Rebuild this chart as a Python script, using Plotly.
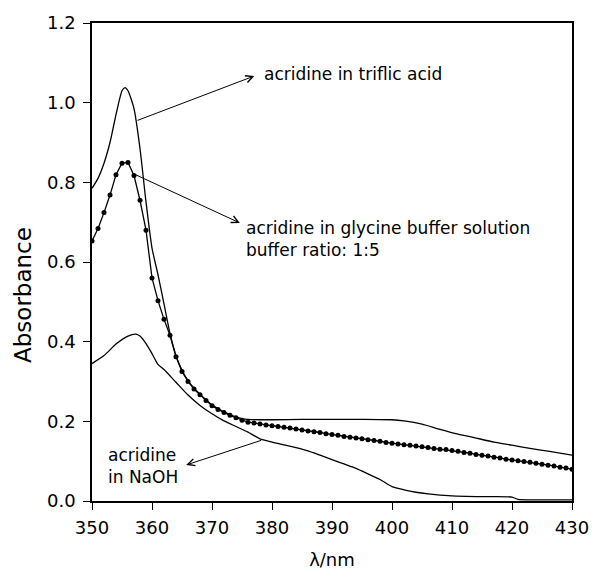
import plotly.graph_objects as go

# --- data ---
wl_triflic = [350, 351, 352, 353, 354, 355, 355.5, 356, 357, 358, 359, 360, 361, 362, 363, 364,
              365, 366, 367, 368, 369, 370, 371, 372, 373, 374, 375, 376, 378, 380, 385, 390,
              395, 400, 402, 405, 408, 411, 414, 417, 420, 423, 426, 430]
abs_triflic = [0.785, 0.81, 0.848, 0.90, 0.97, 1.03, 1.038, 1.03, 0.985, 0.885, 0.751, 0.635,
               0.568, 0.495, 0.42, 0.365, 0.328, 0.302, 0.283, 0.268, 0.254, 0.241, 0.232,
               0.224, 0.217, 0.211, 0.207, 0.205, 0.204, 0.204, 0.205, 0.205, 0.205, 0.204,
               0.201, 0.193, 0.18, 0.168, 0.158, 0.148, 0.14, 0.132, 0.125, 0.115]

wl_glycine = list(range(350, 431))
abs_glycine = [0.653, 0.684, 0.724, 0.768, 0.819, 0.848, 0.850, 0.817, 0.755, 0.680,
               0.560, 0.503, 0.456, 0.416, 0.362, 0.325, 0.300, 0.281, 0.267, 0.252,
               0.239, 0.230, 0.222, 0.215, 0.209, 0.203, 0.198, 0.196, 0.193, 0.191,
               0.189, 0.187, 0.185, 0.183, 0.181, 0.178, 0.176, 0.174, 0.172, 0.169,
               0.167, 0.165, 0.162, 0.160, 0.158, 0.156, 0.154, 0.152, 0.150, 0.147,
               0.145, 0.143, 0.141, 0.140, 0.138, 0.136, 0.134, 0.132, 0.130, 0.129,
               0.127, 0.125, 0.122, 0.120, 0.117, 0.115, 0.113, 0.110, 0.108, 0.105,
               0.103, 0.101, 0.099, 0.097, 0.095, 0.092, 0.090, 0.088, 0.085, 0.083,
               0.080]

wl_naoh = [350, 352, 354, 356, 357.3, 358, 359, 360, 361, 362, 364, 366, 368, 370, 372, 374,
           376, 378, 380, 382, 384, 386, 388, 390, 392, 394, 396, 398, 400, 402, 404, 406,
           410, 415, 420, 421, 425, 430]
abs_naoh = [0.345, 0.365, 0.394, 0.414, 0.419, 0.414, 0.395, 0.37, 0.343, 0.33, 0.298, 0.266,
            0.24, 0.219, 0.201, 0.187, 0.173, 0.156, 0.148, 0.141, 0.134, 0.126, 0.115, 0.104,
            0.093, 0.082, 0.068, 0.054, 0.036, 0.028, 0.022, 0.018, 0.013, 0.011, 0.01, 0.004,
            0.003, 0.003]

x_ticks = [350, 360, 370, 380, 390, 400, 410, 420, 430]
y_ticks = [0.0, 0.2, 0.4, 0.6, 0.8, 1.0, 1.2]

FONT = "DejaVu Sans"

fig = go.Figure()
fig.add_trace(go.Scatter(x=wl_triflic, y=abs_triflic, mode="lines",
                         line=dict(color="black", width=1.3, shape="spline", smoothing=0.6)))
fig.add_trace(go.Scatter(x=wl_glycine, y=abs_glycine, mode="lines+markers",
                         line=dict(color="black", width=1.3),
                         marker=dict(color="black", size=5, symbol="circle")))
fig.add_trace(go.Scatter(x=wl_naoh, y=abs_naoh, mode="lines",
                         line=dict(color="black", width=1.3, shape="spline", smoothing=0.6)))

arrow_kw = dict(showarrow=True, arrowhead=5, arrowsize=1.4, arrowwidth=1, arrowcolor="black",
                axref="x", ayref="y", text="", standoff=0, startstandoff=0)
fig.add_annotation(x=377.05, y=1.067, ax=357.33, ay=0.954, **arrow_kw)
fig.add_annotation(x=374.65, y=0.698, ax=357.0, ay=0.821, **arrow_kw)
fig.add_annotation(x=365.69, y=0.0904, ax=378.46, ay=0.1535, **arrow_kw)

txt_kw = dict(showarrow=False, xanchor="left", yanchor="middle", align="left",
              font=dict(family=FONT, size=17, color="black"))
fig.add_annotation(x=378.35, y=1.072, text="acridine in triflic acid", **txt_kw)
fig.add_annotation(x=375.4, y=0.659,
                   text="acridine in glycine buffer solution<br>buffer ratio: 1:5", **txt_kw)
fig.add_annotation(x=352.28, y=0.0875, text="acridine<br>in NaOH", **txt_kw)

# y-axis title (placed like the reference, slightly below the plot centre)
fig.add_annotation(xref="paper", yref="paper", x=-0.1426, y=0.43, text="Absorbance",
                   textangle=-90, showarrow=False, xanchor="center", yanchor="middle",
                   font=dict(family=FONT, size=23, color="black"))

fig.update_layout(
    width=601, height=579,
    margin=dict(l=92, r=18, t=18, b=74),
    paper_bgcolor="white", plot_bgcolor="white",
    showlegend=False,
    font=dict(family=FONT, size=17, color="black"),
    xaxis=dict(range=[350, 430], tickvals=x_ticks, ticks="outside", ticklen=7, tickwidth=1,
               tickcolor="black", showline=True, linecolor="black", linewidth=1.5, mirror=True,
               showgrid=False, zeroline=False, ticklabelstandoff=3,
               title=dict(text="λ/nm", font=dict(family=FONT, size=18), standoff=16),
               tickfont=dict(family=FONT, size=18)),
    yaxis=dict(range=[0, 1.2], tickvals=y_ticks, tickformat=".1f", ticks="outside", ticklen=7,
               tickwidth=1, tickcolor="black", showline=True, linecolor="black", linewidth=1.5,
               mirror=True, showgrid=False, zeroline=False, ticklabelstandoff=4,
               tickfont=dict(family=FONT, size=18)),
)

fig.write_html("out.html")
